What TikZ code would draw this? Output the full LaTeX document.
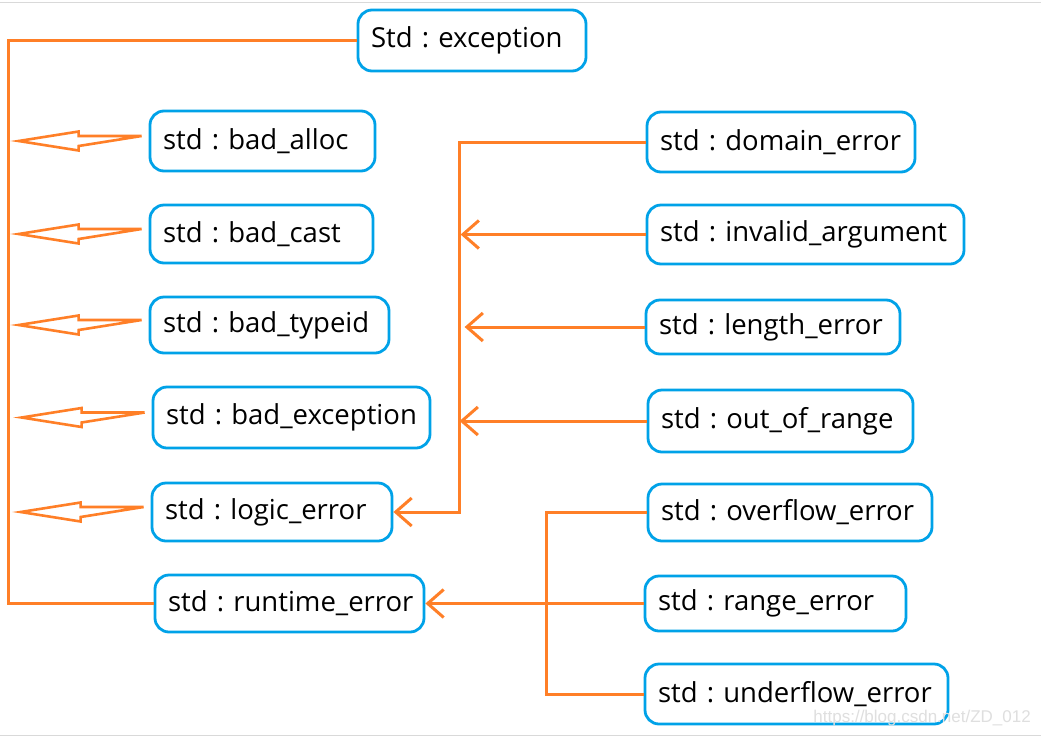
\documentclass[tikz,border=0pt]{standalone}
\usepackage{fontspec}
\setmainfont{Open Sans}
\setsansfont{Liberation Sans}
\usetikzlibrary{arrows.meta,calc}
\frenchspacing
\definecolor{org}{RGB}{255,127,39}
\definecolor{blu}{RGB}{0,162,232}
\tikzset{
  box/.style={draw=blu, line width=2.8pt, rounded corners=14pt, inner xsep=13pt, inner ysep=0pt, align=left, font=\fontsize{27.5}{32}\selectfont},
  ln/.style={draw=org, line width=3pt},
  barb/.style={-{Straight Barb[length=16pt,width=28pt]}},
  hol/.style={draw=org, fill=white, line width=2.6pt, line join=miter},
}
\newcommand\bx[6]{\node[box, minimum height={#5-#4}, text width={#3-#2-26}] (#1) at ({(#2+#3)/2},{(#4+#5)/2}) {\mbox{\frenchspacing #6}};}
\newcommand\harrow[1]{\draw[hol] ($(#1.west)+(-7,-5)$) -- ++(-63,0) -- ++(0,-4.5) -- ++(-60,9.5) -- ++(60,9.5) -- ++(0,-4.5) -- cycle;}
\begin{document}
\begin{tikzpicture}[x=1pt,y=-1pt]
\useasboundingbox (0,0) rectangle (1041,737);
\fill[white] (0,0) rectangle (1041,737);
\draw[gray!30, line width=1pt] (0,2) -- (1041,2);
\draw[gray!30, line width=1pt] (0,735) -- (1041,735);
% boxes
\bx{exc}{358}{586}{10}{71}{Std : exception}
\bx{ba}{150}{375}{111}{171}{std : bad\_alloc}
\bx{bc}{150}{373}{205}{263}{std : bad\_cast}
\bx{bt}{150}{389}{297}{353}{std : bad\_typeid}
\bx{be}{153}{430}{387}{448}{std : bad\_exception}
\bx{lo}{152}{392}{483}{541}{std : logic\_error}
\bx{rt}{155}{424}{575}{632}{std : runtime\_error}
\bx{de}{647}{915}{112}{172}{std : domain\_error}
\bx{ia}{647}{964}{205}{264}{std : invalid\_argument}
\bx{len}{646}{900}{300}{354}{std : length\_error}
\bx{oor}{648}{913}{390}{452}{std : out\_of\_range}
\bx{ov}{648}{932}{484}{541}{std : overflow\_error}
\bx{re}{645}{906}{576}{631}{std : range\_error}
\bx{un}{645}{948}{664}{724}{std : underflow\_error}
% watermark
\node[anchor=east, text=gray!25, font=\sffamily\fontsize{17}{20}\selectfont, inner sep=0pt] (wm) at (1031,718) {https://blog.csdn.net/ZD\_012};
% connectors
\coordinate (lv) at (459,0);
\coordinate (rv) at (546,0);
\draw[ln] (exc.west) -| ($(rt.west)+(-145,0)$) -- (rt.west);
\harrow{ba}
\harrow{bc}
\harrow{bt}
\harrow{be}
\harrow{lo}
\draw[ln, barb] (de.west) -| (lv |- lo.east) -- (lo.east);
\draw[ln, barb] (ia.west) -- ($(ia.west)+(-185,0)$);
\draw[ln, barb] (len.west) -- ($(len.west)+(-180,0)$);
\draw[ln, barb] (oor.west) -- ($(oor.west)+(-187,0)$);
\draw[ln] (ov.west) -| (rv |- un.west) -- (un.west);
\draw[ln, barb] (re.west) -- (rt.east);
\end{tikzpicture}
\end{document}
